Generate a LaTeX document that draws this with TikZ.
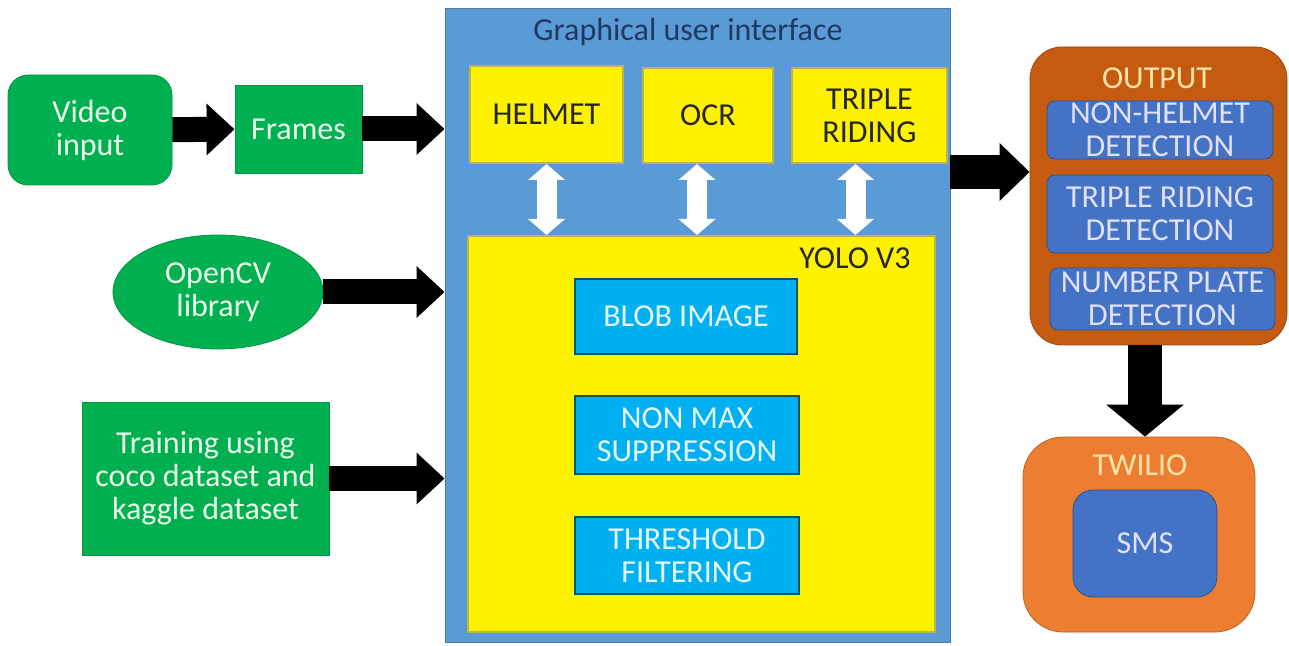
\documentclass[tikz,border=0pt]{standalone}
\usepackage{fontspec}
\setmainfont{Carlito}
\usetikzlibrary{arrows.meta,shapes.geometric,positioning}

\definecolor{boxgreen}{HTML}{00B050}
\definecolor{guiblue}{HTML}{5B9BD5}
\definecolor{yolocyan}{HTML}{00B0F0}
\definecolor{outblue}{HTML}{4472C4}
\definecolor{outorange}{HTML}{C55A11}
\definecolor{smsorange}{HTML}{ED7D31}
\definecolor{titlenavy}{HTML}{1F3864}
\definecolor{paletext}{HTML}{FFE3A8}

\begin{document}
\begin{tikzpicture}[x=0.5pt,y=-0.5pt,
    font=\fontsize{16}{16.5}\selectfont,
    box/.style={inner sep=0pt, align=center},
    greenbox/.style={box, fill=boxgreen, draw=boxgreen!85!black, text=white!92!green},
    yellowbox/.style={box, fill=yellow, draw=olive!60, line width=1pt, text=black!85},
    cyanbox/.style={box, fill=yolocyan, draw=teal!70!black, line width=1pt, text=white!90!cyan},
    bluebox/.style={box, fill=outblue, draw=outblue!70!black, text=white!88!blue, rounded corners=4pt},
    bigarrow/.style={line width=12.5pt, -{Triangle[length=14pt,width=25pt]}},
    dblarrow/.style={white, line width=10pt, {Triangle[length=8pt,width=18pt]}-{Triangle[length=8pt,width=18pt]}}
]
\useasboundingbox (0,0) rectangle (1289,646);

% inputs
\node[greenbox, rounded corners=10pt, minimum width=82pt, minimum height=55pt] (video) at (90,130) {Video\\input};
\node[greenbox, minimum width=63.5pt, minimum height=44pt] (frames) at (298.5,129) {Frames};
\node[greenbox, ellipse, minimum width=105pt, minimum height=57pt] (opencv) at (218,292) {OpenCV\\library};
\node[greenbox, minimum width=123.5pt, minimum height=76.5pt] (training) at (205.5,478.5) {Training using\\coco dataset and\\kaggle dataset};

% GUI
\node[box, fill=guiblue, draw=guiblue!80!black, minimum width=252.5pt, minimum height=317pt] (gui) at (697.5,325) {};
\node[text=titlenavy] (guititle) at (688,32) {Graphical user interface};
\node[yellowbox, minimum width=76.5pt, minimum height=48.5pt] (helmet) at (546.5,114.5) {HELMET};
\node[yellowbox, minimum width=65pt, minimum height=47.5pt] (ocr) at (708,115.5) {OCR};
\node[yellowbox, minimum width=77.5pt, minimum height=47.5pt] (triple) at (869.5,115.5) {TRIPLE\\RIDING};

% YOLO
\node[yellowbox, minimum width=233.5pt, minimum height=198pt] (yolo) at (701.5,434) {};
\node[text=black!85] (yolotitle) at (855,258) {YOLO V3};
\node[cyanbox, minimum width=111pt, minimum height=37.5pt] (blob) at (686,316.5) {BLOB IMAGE};
\node[cyanbox, minimum width=112pt, minimum height=39pt] (nms) at (687,435) {NON MAX\\SUPPRESSION};
\node[cyanbox, minimum width=112pt, minimum height=38.5pt] (thresh) at (687,555.5) {THRESHOLD\\FILTERING};

% output
\node[box, fill=outorange, draw=outorange!80!black, rounded corners=16pt, minimum width=128.5pt, minimum height=149pt] (output) at (1158.5,196) {};
\node[text=paletext] (outtitle) at (1157,78) {OUTPUT};
\node[bluebox, minimum width=113pt, minimum height=29pt] (nonhelmet) at (1160,130) {NON-HELMET\\DETECTION};
\node[bluebox, minimum width=113pt, minimum height=39pt] (tripledet) at (1160,214) {TRIPLE RIDING\\DETECTION};
\node[bluebox, minimum width=112.5pt, minimum height=31pt] (plate) at (1162.5,299) {NUMBER PLATE\\DETECTION};

% twilio
\node[box, fill=smsorange, draw=smsorange!80!black, rounded corners=20pt, minimum width=116pt, minimum height=97.5pt] (twilio) at (1139,534.5) {};
\node[text=paletext] (twiliotitle) at (1140,465) {TWILIO};
\node[bluebox, rounded corners=10pt, minimum width=72pt, minimum height=53.5pt] (sms) at (1145,543.5) {SMS};

% arrows
\coordinate (outin) at ([yshift=12pt]output.west);
\draw[bigarrow] (video) -- (frames);
\draw[bigarrow] (frames) -- (frames -| gui.west);
\draw[bigarrow] (opencv) -- (opencv -| gui.west);
\draw[bigarrow] (training) -- (training -| gui.west);
\draw[bigarrow, line width=17pt, -{Triangle[length=15pt,width=28pt]}] (gui.east |- outin) -- (outin);
\draw[bigarrow, line width=17pt, -{Triangle[length=16pt,width=38pt]}] (output.south -| sms.north) -- (sms.north |- twilio.north);
\draw[dblarrow] (helmet.south) -- (helmet.south |- yolo.north);
\draw[dblarrow] ([xshift=-5.5pt]ocr.south) -- ([xshift=-5.5pt]ocr.south |- yolo.north);
\draw[dblarrow] ([xshift=-7pt]triple.south) -- ([xshift=-7pt]triple.south |- yolo.north);
\end{tikzpicture}
\end{document}
